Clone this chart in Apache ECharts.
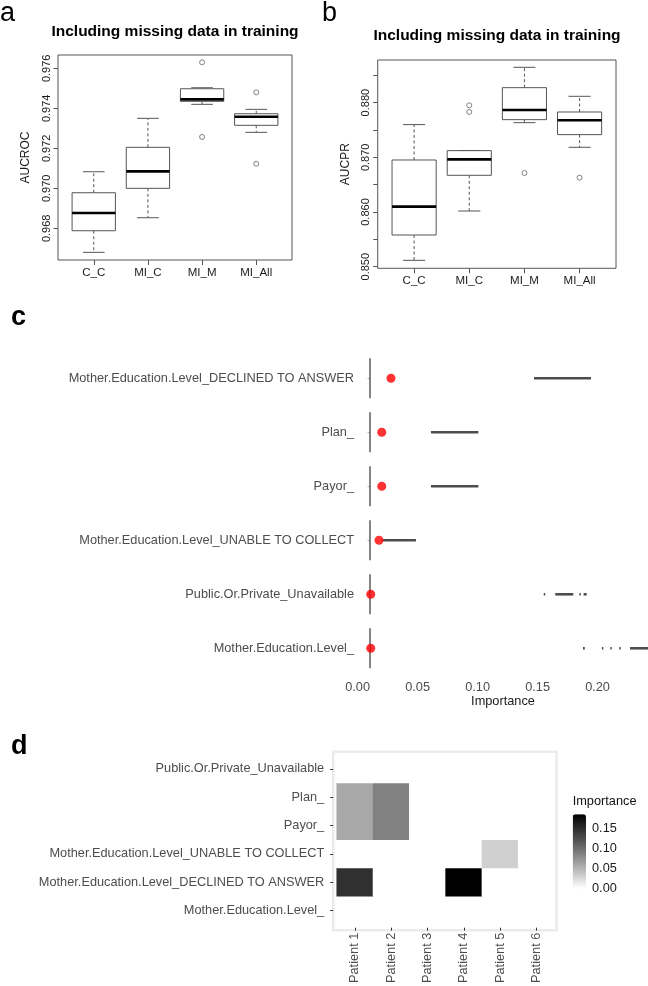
<!DOCTYPE html>
<html><head><meta charset="utf-8">
<script src="https://cdn.jsdelivr.net/npm/echarts@6/dist/echarts.min.js"></script>
<style>html,body{margin:0;padding:0;background:#fff}#c{width:648px;height:986px}</style>
</head><body><div id="c"></div>
<script>
// ---------- data ----------
const boxCats = ['C_C', 'MI_C', 'MI_M', 'MI_All'];
const aucrocTicks = [0.968, 0.970, 0.972, 0.974, 0.976];
const aucrocLow  = [0.96680, 0.96853, 0.97420, 0.97280];
const aucrocQ1   = [0.96788, 0.97000, 0.97435, 0.97315];
const aucrocMed  = [0.96877, 0.97085, 0.97445, 0.97358];
const aucrocQ3   = [0.96978, 0.97205, 0.97498, 0.97373];
const aucrocHigh = [0.97083, 0.97350, 0.97503, 0.97395];
const aucrocOutliers = [[3, 0.97630], [3, 0.97257], [4, 0.97480], [4, 0.97123]];

const aucprTicks = [0.850, 0.855, 0.860, 0.865, 0.870, 0.875, 0.880, 0.885];
const aucprLabels = [0.850, 0.860, 0.870, 0.880];
const aucprLow  = [0.85116, 0.86018, 0.87634, 0.87183];
const aucprQ1   = [0.85579, 0.86671, 0.87689, 0.87415];
const aucprMed  = [0.86098, 0.86963, 0.87866, 0.87677];
const aucprQ3   = [0.86951, 0.87122, 0.88274, 0.87829];
const aucprHigh = [0.87598, 0.87122, 0.88646, 0.88116];
const aucprOutliers = [[2, 0.87951], [2, 0.87829], [3, 0.86713], [4, 0.86628]];

// panel c (rows listed bottom to top)
const featureNames = ['Mother.Education.Level_', 'Public.Or.Private_Unavailable',
  'Mother.Education.Level_UNABLE TO COLLECT', 'Payor_', 'Plan_',
  'Mother.Education.Level_DECLINED TO ANSWER'];
const featureDots = [0.0006, 0.0006, 0.0075, 0.0098, 0.0098, 0.0175];
const importanceTicks = [0, 0.05, 0.10, 0.15, 0.20];
// [from, to, rowIndex]
const importanceRanges = [
  [0.1775, 0.1790, 0], [0.1933, 0.1945, 0], [0.2003, 0.2015, 0], [0.2078, 0.2090, 0], [0.2167, 0.2317, 0],
  [0.1448, 0.1460, 1], [0.1544, 0.1694, 1], [0.1745, 0.1757, 1], [0.1780, 0.1806, 1],
  [0.0095, 0.0103, 2], [0.0108, 0.0383, 2],
  [0.0508, 0.0903, 3],
  [0.0508, 0.0903, 4],
  [0.1367, 0.1842, 5]
];

// panel d
const patients = ['Patient 1', 'Patient 2', 'Patient 3', 'Patient 4', 'Patient 5', 'Patient 6'];
const heatRows = ['Mother.Education.Level_', 'Mother.Education.Level_DECLINED TO ANSWER',
  'Mother.Education.Level_UNABLE TO COLLECT', 'Payor_', 'Plan_', 'Public.Or.Private_Unavailable'];
// rows of values per heatRows entry, columns = patients
const heatMatrix = [
  [0, 0, 0, 0, 0, 0],
  [0.148, 0, 0, 0.185, 0, 0],
  [0, 0, 0, 0, 0.0305, 0],
  [0.0576, 0.0858, 0, 0, 0, 0],
  [0.0576, 0.0858, 0, 0, 0, 0],
  [0, 0, 0, 0, 0, 0]
];
const legendTicks = [0, 0.05, 0.10, 0.15];
const legendMax = 0.185;

// ---------- helpers ----------
const FONT = "'Liberation Sans', Arial, sans-serif";
const GRAY = '#555';
const GG = 12.75;
function boxData(lo, q1, md, q3, hi) {
  return boxCats.map((c, i) => [i + 1, lo[i], q1[i], md[i], q3[i], hi[i]]);
}
function renderBox(params, api) {
  const x = api.value(0);
  const pl = api.coord([x, api.value(1)]), p1 = api.coord([x, api.value(2)]),
        pm = api.coord([x, api.value(3)]), p3 = api.coord([x, api.value(4)]),
        ph = api.coord([x, api.value(5)]);
  const w = api.size([0.8, 0])[0];
  const cx = pl[0], s = w / 4;
  const dash = {stroke: GRAY, lineWidth: 1, lineDash: [3, 2.5]};
  const solid = {stroke: GRAY, lineWidth: 1};
  return {type: 'group', children: [
    {type: 'line', shape: {x1: cx, y1: p1[1], x2: cx, y2: pl[1]}, style: dash},
    {type: 'line', shape: {x1: cx, y1: p3[1], x2: cx, y2: ph[1]}, style: dash},
    {type: 'line', shape: {x1: cx - s, y1: pl[1], x2: cx + s, y2: pl[1]}, style: solid},
    {type: 'line', shape: {x1: cx - s, y1: ph[1], x2: cx + s, y2: ph[1]}, style: solid},
    {type: 'rect', shape: {x: cx - w / 2, y: p3[1], width: w, height: p1[1] - p3[1]},
      style: {fill: '#fff', stroke: GRAY, lineWidth: 1}},
    {type: 'line', shape: {x1: cx - w / 2, y1: pm[1], x2: cx + w / 2, y2: pm[1]},
      style: {stroke: '#000', lineWidth: 2.6}}
  ]};
}
function renderSeg(params, api) {
  const a = api.coord([api.value(0), api.value(2)]);
  const b = api.coord([api.value(1), api.value(2)]);
  return {type: 'line', shape: {x1: a[0], y1: a[1], x2: b[0], y2: b[1]},
    style: {stroke: '#4d4d4d', lineWidth: 2.6}};
}
function renderZero(params, api) {
  const p = api.coord([api.value(0), api.value(1)]);
  const h = api.size([0, 1])[1] * 0.74;
  return {type: 'line', shape: {x1: p[0], y1: p[1] - h / 2, x2: p[0], y2: p[1] + h / 2},
    style: {stroke: '#333', lineWidth: 1.2}};
}
const catFmt = v => boxCats[Math.round(v) - 1] || '';

function rBoxXAxis(gi) {
  return {gridIndex: gi, type: 'value', min: 0.34, max: 4.66,
    axisLine: {show: false}, splitLine: {show: false},
    axisTick: {show: true, length: 5, customValues: [1, 2, 3, 4], lineStyle: {color: GRAY}},
    axisLabel: {customValues: [1, 2, 3, 4], formatter: catFmt, margin: 7,
      fontFamily: FONT, fontSize: 11.5, color: '#1a1a1a'}};
}
function rBoxYAxis(gi, min, max, ticks, labels, name) {
  return {gridIndex: gi, type: 'value', min: min, max: max, name: name,
    nameLocation: 'middle', nameGap: 26, nameTextStyle: {fontFamily: FONT, fontSize: 12, color: '#1a1a1a'},
    axisLine: {show: false}, splitLine: {show: false},
    axisTick: {show: true, length: 4.5, customValues: ticks, lineStyle: {color: GRAY}},
    axisLabel: {customValues: labels, rotate: 90, margin: 6, formatter: v => v.toFixed(3),
      fontFamily: FONT, fontSize: 11, color: '#1a1a1a'}};
}

const heatData = [];
heatMatrix.forEach((row, r) => row.forEach((v, c) => heatData.push([c, r, v])));

const option = {
  backgroundColor: '#fff',
  animation: false,
  title: [
    {text: 'a', left: 0, top: 0, padding: 0, textStyle: {fontFamily: FONT, fontSize: 27, fontWeight: 'normal', color: '#000'}},
    {text: 'b', left: 322, top: 0, padding: 0, textStyle: {fontFamily: FONT, fontSize: 27, fontWeight: 'normal', color: '#000'}},
    {text: 'c', left: 11, top: 304, padding: 0, textStyle: {fontFamily: FONT, fontSize: 27, fontWeight: 'bold', color: '#000'}},
    {text: 'd', left: 11, top: 733, padding: 0, textStyle: {fontFamily: FONT, fontSize: 27, fontWeight: 'bold', color: '#000'}},
    {text: 'Including missing data in training', left: 175, top: 24, textAlign: 'center', padding: 0,
      textStyle: {fontFamily: FONT, fontSize: 15.5, fontWeight: 'bold', color: '#000'}},
    {text: 'Including missing data in training', left: 497, top: 28, textAlign: 'center', padding: 0,
      textStyle: {fontFamily: FONT, fontSize: 15.5, fontWeight: 'bold', color: '#000'}},
    {text: 'Importance', left: 572.7, top: 795, padding: 0,
      textStyle: {fontFamily: FONT, fontSize: GG, fontWeight: 'normal', color: '#111'}}
  ],
  grid: [
    {left: 58, top: 55, width: 234, height: 205, show: true, borderColor: GRAY, borderWidth: 1, backgroundColor: 'transparent'},
    {left: 377.7, top: 60, width: 238.3, height: 208.3, show: true, borderColor: GRAY, borderWidth: 1, backgroundColor: 'transparent'},
    {left: 358, top: 351.3, width: 290, height: 324},
    {left: 333.2, top: 751.7, width: 223.4, height: 178.5, show: true, borderColor: '#ebebeb', borderWidth: 2.5, backgroundColor: 'transparent'},
    {left: 336.7, top: 754.7, width: 217.8, height: 174},
    {left: 572.7, top: 814.3, width: 13.3, height: 74}
  ],
  xAxis: [
    rBoxXAxis(0),
    rBoxXAxis(1),
    {gridIndex: 2, type: 'value', min: -0.01, max: 0.2317, name: 'Importance', nameLocation: 'middle', nameGap: 17,
      nameTextStyle: {fontFamily: FONT, fontSize: GG, color: '#1a1a1a', verticalAlign: 'top'},
      axisLine: {show: false}, splitLine: {show: false}, axisTick: {show: false},
      axisLabel: {customValues: importanceTicks, formatter: v => v.toFixed(2), align: 'right', margin: 6,
        fontFamily: FONT, fontSize: GG, color: '#4d4d4d'}},
    {gridIndex: 3, type: 'value', show: false},
    {gridIndex: 4, type: 'category', data: patients, offset: 3,
      axisLine: {show: false}, splitLine: {show: false},
      axisTick: {show: true, alignWithLabel: true, length: 3, lineStyle: {color: '#333'}},
      axisLabel: {rotate: 90, margin: 5, fontFamily: FONT, fontSize: GG, color: '#4d4d4d', interval: 0}},
    {gridIndex: 5, type: 'value', show: false}
  ],
  yAxis: [
    rBoxYAxis(0, 0.966417, 0.976667, aucrocTicks, aucrocTicks, 'AUCROC'),
    rBoxYAxis(1, 0.8497, 0.8878, aucprTicks, aucprLabels, 'AUCPR'),
    {gridIndex: 2, type: 'category', data: featureNames,
      axisLine: {show: false}, splitLine: {show: false},
      axisTick: {show: true, alignWithLabel: true, length: 2.5, lineStyle: {color: '#bbb'}},
      axisLabel: {margin: 4, fontFamily: FONT, fontSize: GG, color: '#4d4d4d'}},
    {gridIndex: 3, type: 'value', show: false},
    {gridIndex: 4, type: 'category', data: heatRows, offset: 3.5,
      axisLine: {show: false}, splitLine: {show: false},
      axisTick: {show: true, alignWithLabel: true, length: 3, lineStyle: {color: '#333'}},
      axisLabel: {margin: 9, fontFamily: FONT, fontSize: GG, color: '#4d4d4d', interval: 0}},
    {gridIndex: 5, type: 'value', position: 'right', min: 0, max: legendMax,
      axisLine: {show: false}, splitLine: {show: false}, axisTick: {show: false},
      axisLabel: {customValues: legendTicks, formatter: v => v.toFixed(2), margin: 6,
        fontFamily: FONT, fontSize: GG, color: '#1a1a1a'}}
  ],
  visualMap: {
    type: 'continuous', seriesIndex: 8, min: 0, max: legendMax, calculable: false,
    left: 572.7, top: 814.3, itemWidth: 13.3, itemHeight: 74, padding: 0,
    inRange: {color: ['#ffffff', '#c6c6c6', '#919191', '#5e5e5e', '#303030', '#000000']},
    textStyle: {color: '#000'}
  },
  series: [
    {type: 'custom', xAxisIndex: 0, yAxisIndex: 0, renderItem: renderBox,
      data: boxData(aucrocLow, aucrocQ1, aucrocMed, aucrocQ3, aucrocHigh)},
    {type: 'scatter', xAxisIndex: 0, yAxisIndex: 0, data: aucrocOutliers, symbolSize: 5,
      itemStyle: {color: 'rgba(0,0,0,0)', borderColor: GRAY, borderWidth: 0.9}},
    {type: 'custom', xAxisIndex: 1, yAxisIndex: 1, renderItem: renderBox,
      data: boxData(aucprLow, aucprQ1, aucprMed, aucprQ3, aucprHigh)},
    {type: 'scatter', xAxisIndex: 1, yAxisIndex: 1, data: aucprOutliers, symbolSize: 5,
      itemStyle: {color: 'rgba(0,0,0,0)', borderColor: GRAY, borderWidth: 0.9}},
    {type: 'custom', xAxisIndex: 2, yAxisIndex: 2, renderItem: renderZero,
      data: featureNames.map((f, i) => [0, i])},
    {type: 'custom', xAxisIndex: 2, yAxisIndex: 2, renderItem: renderSeg, data: importanceRanges},
    {type: 'scatter', xAxisIndex: 2, yAxisIndex: 2, symbolSize: 9, itemStyle: {color: '#ff0000'},
      data: featureDots.map((v, i) => [v, i]), z: 5},
    {type: 'scatter', xAxisIndex: 3, yAxisIndex: 3, data: []},
    {type: 'heatmap', xAxisIndex: 4, yAxisIndex: 4, data: heatData, itemStyle: {borderWidth: 0}}
  ]
};
const chart = echarts.init(document.getElementById('c'), null, {renderer: 'canvas'});
chart.setOption(option);
</script></body></html>
